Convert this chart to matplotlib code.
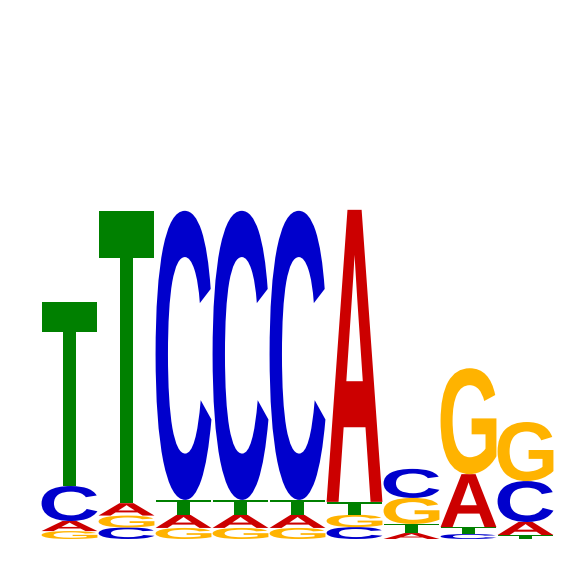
import numpy as np
import matplotlib
matplotlib.use("Agg")
import matplotlib.pyplot as plt
from matplotlib.textpath import TextPath
from matplotlib.patches import PathPatch
from matplotlib.font_manager import FontProperties
from matplotlib.transforms import Affine2D

# information content (bits) per base, 9 positions
bases = ["A", "C", "G", "T"]
A = [0.061, 0.075, 0.079, 0.079, 0.079, 1.770, 0.036, 0.321, 0.079]
C = [0.212, 0.070, 1.752, 1.752, 1.752, 0.072, 0.176, 0.030, 0.248]
G = [0.048, 0.072, 0.067, 0.067, 0.067, 0.075, 0.158, 0.642, 0.358]
T = [1.115, 1.770, 0.091, 0.091, 0.091, 0.078, 0.055, 0.042, 0.024]
colors = {"A": "#CC0000", "C": "#0000CC", "G": "#FFB300", "T": "#008000"}

font = FontProperties(family="Liberation Sans", weight="bold")


def draw_letter(ax, letter, x, y, w, h):
    path = TextPath((0, 0), letter, size=1, prop=font)
    ext = path.get_extents()
    tr = (
        Affine2D()
        .translate(-ext.x0, -ext.y0)
        .scale(w / ext.width, h / ext.height)
        .translate(x, y)
    )
    ax.add_patch(PathPatch(tr.transform_path(path), facecolor=colors[letter],
                           edgecolor="none"))


fig = plt.figure(figsize=(5.66, 5.66), dpi=100)
ax = fig.add_axes([0, 0, 1, 1])

heights = np.array([A, C, G, T])
for i in range(heights.shape[1]):
    order = np.argsort(heights[:, i])
    y0 = 0.0
    for k in order:
        h = heights[k, i]
        draw_letter(ax, bases[k], i + 0.01, y0, 0.98, h)
        y0 += h

# pixel layout: column width ~57px from x=41, 1 bit ~165px, baseline y=539
ax.set_xlim(-41 / 57.0, (566 - 41) / 57.0)
ax.set_ylim(-27 / 165.0, 539 / 165.0)
ax.axis("off")
fig.savefig("out.png", dpi=100)
